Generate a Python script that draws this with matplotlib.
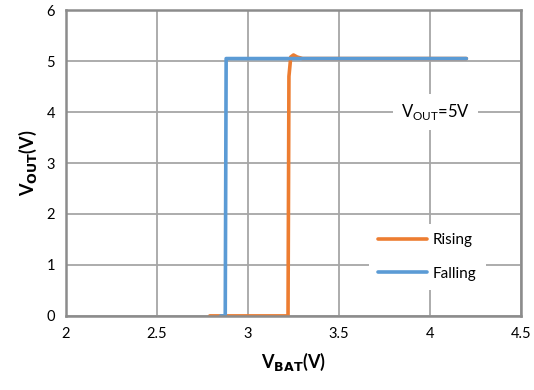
import numpy as np
import matplotlib
matplotlib.use("Agg")
import matplotlib.pyplot as plt

plt.rcParams['font.family'] = ['Lato', 'DejaVu Sans']

# rising: output stays at 0 until ~3.22 V, then jumps to 5 V (small overshoot)
rise_x = [2.79, 3.22, 3.225, 3.235, 3.25, 3.27, 3.3, 4.2]
rise_y = [0.0, 0.0, 4.7, 5.08, 5.12, 5.08, 5.05, 5.05]
# falling: output holds 5 V down to ~2.88 V, then drops to 0
fall_x = [4.2, 2.88, 2.875, 2.85]
fall_y = [5.05, 5.05, 0.0, 0.0]

orange = '#ED7D31'
blue = '#5B9BD5'
grid_c = '#A6A6A6'

fig = plt.figure(figsize=(5.34, 3.90), dpi=100)
ax = fig.add_axes([0.1236, 0.19, 0.852, 0.784])

ax.plot(rise_x, rise_y, color=orange, lw=2.6, label='Rising', solid_capstyle='round')
ax.plot(fall_x, fall_y, color=blue, lw=2.6, label='Falling', solid_capstyle='round')

ax.set_xlim(2, 4.5)
ax.set_ylim(0, 6)
ax.set_xticks([2, 2.5, 3, 3.5, 4, 4.5])
ax.set_xticklabels(['2', '2.5', '3', '3.5', '4', '4.5'])
ax.set_yticks(range(7))
ax.grid(True, color=grid_c, lw=1.3)
ax.set_axisbelow(True)
ax.tick_params(length=0, labelsize=10.5, pad=8)
for s in ax.spines.values():
    s.set_color('#8C8C8C')
    s.set_linewidth(1.8)

ax.set_xlabel(r'V$_{\mathbf{BAT}}$(V)', fontsize=13, fontweight='bold', labelpad=7)
ax.set_ylabel(r'V$_{\mathbf{OUT}}$(V)', fontsize=13, fontweight='bold', labelpad=5)

ax.text(4.03, 4.0, r'V$_{\mathregular{OUT}}$=5V', fontsize=12, ha='center', va='center',
        bbox=dict(facecolor='white', edgecolor='none', pad=6))

leg = ax.legend(loc='lower right', bbox_to_anchor=(0.94, 0.06), frameon=True,
                fontsize=11, handlelength=3.2, handletextpad=0.4,
                labelspacing=1.3, borderpad=0.6)
leg.get_frame().set_edgecolor('none')
leg.get_frame().set_facecolor('white')
leg.get_frame().set_alpha(1)

fig.savefig('out.png', dpi=100)
